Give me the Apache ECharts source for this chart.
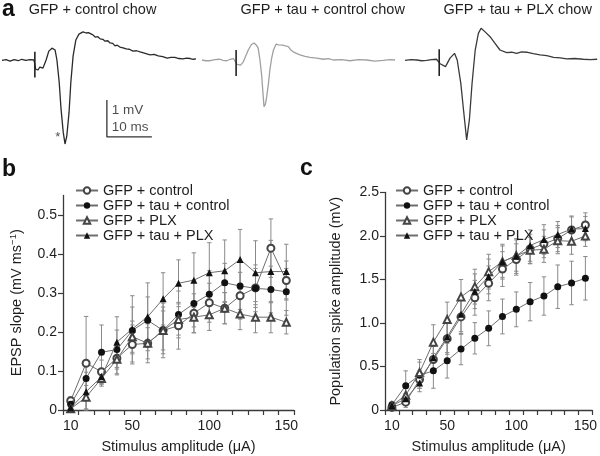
<!DOCTYPE html>
<html><head><meta charset="utf-8">
<script src="https://cdn.jsdelivr.net/npm/echarts@6/dist/echarts.min.js"></script>
<style>html,body{margin:0;padding:0;background:#fff}#c{width:600px;height:456px}</style>
</head><body><div id="c"></div>
<script>
// ---------- Panel a: example traces (time in ms, voltage in mV) ----------
const traceTitles = ['GFP + control chow', 'GFP + tau + control chow', 'GFP + tau + PLX chow'];
const traceCtrl = [[0,-0.01],[0.9,0.01],[1.8,-0.03],[2.7,0.01],[3.6,-0.02],[4.4,0.02],[5.3,-0.01],[6.2,0.01],[7.1,0.0],[7.5,-0.25],[8.0,-0.27],[8.4,-0.19],[9.1,-0.22],[9.8,0.0],[10.4,0.24],[11.1,0.32],[11.8,0.27],[12.2,0.0],[12.7,-0.59],[13.1,-1.30],[13.6,-1.95],[14.0,-2.27],[14.4,-2.05],[14.9,-1.41],[15.3,-0.59],[15.8,0.11],[16.4,0.54],[17.1,0.70],[18.0,0.76],[18.7,0.73],[19.2,0.74],[19.6,0.70],[20.2,0.68],[20.7,0.62],[21.3,0.63],[21.8,0.57],[22.4,0.56],[22.9,0.51],[23.5,0.52],[24.0,0.46],[24.6,0.45],[25.1,0.38],[25.6,0.40],[26.2,0.35],[26.9,0.33],[27.6,0.30],[28.3,0.29],[29.1,0.24],[29.9,0.25],[30.7,0.22],[31.8,0.18],[32.9,0.14],[33.8,0.15],[34.7,0.11],[35.7,0.09],[36.7,0.05],[37.5,0.07],[38.4,0.07],[39.3,0.04],[40.2,0.03],[41.0,0.05],[41.8,0.04],[42.5,0.02],[43.1,0.03]];
const traceTau = [[0.2,0],[1.1,-0.02],[2.0,-0.02],[3.1,0.01],[4.2,0.02],[4.9,-0.01],[5.7,-0.02],[6.5,0.02],[7.2,0.04],[8.0,-0.12],[8.3,-0.09],[8.8,-0.14],[9.4,-0.05],[10.5,0.27],[11.2,0.42],[11.8,0.46],[12.3,0.40],[12.7,0.32],[13.1,0.0],[13.5,-0.45],[13.8,-0.95],[14.0,-1.26],[14.3,-1.2],[14.6,-0.99],[15.0,-0.62],[15.3,-0.27],[15.7,0.05],[16.1,0.27],[16.7,0.43],[17.2,0.41],[17.6,0.43],[18.2,0.40],[18.7,0.38],[19.4,0.36],[19.9,0.28],[20.5,0.22],[21.2,0.18],[22.0,0.14],[23.1,0.10],[24.2,0.07],[25.7,0.05],[27.2,0.02],[28.3,0.04],[29.4,0.0],[31.2,0.01],[33.1,-0.02],[35.0,0.01],[36.8,0.0],[38.6,-0.03],[40.5,-0.01],[42.0,0.01],[43.1,0]];
const tracePlx = [[0,-0.01],[1.3,0.01],[2.6,0],[3.7,-0.02],[4.8,-0.01],[5.9,0.01],[7.0,0.02],[7.8,-0.1],[8.2,-0.14],[9.0,-0.18],[10.0,0.05],[11.0,0.18],[11.6,0.0],[12.4,-0.63],[13.0,-1.35],[13.7,-2.16],[14.3,-1.62],[14.9,-0.63],[15.6,0.27],[16.3,0.72],[16.9,0.86],[17.8,0.76],[18.9,0.63],[20.0,0.45],[21.1,0.27],[22.6,0.20],[23.7,0.21],[24.8,0.18],[25.9,0.22],[27.0,0.21],[28.5,0.17],[30.0,0.14],[31.5,0.12],[33.0,0.07],[34.5,0.06],[35.9,0.03],[37.7,0.04],[39.6,0.02],[41.2,0.01],[42.7,0.02]];
// stimulus artifacts: [time, top, bottom]
const artifacts = [[7.3,0.22,-0.47],[7.8,0.27,-0.43],[7.6,0.29,-0.43]];
// scale bar: 1 mV vertical, 10 ms horizontal
const scaleBar = [[23.3,-1.08],[23.3,-2.08],[33.3,-2.08]];
const scaleLabels = [[24.4,-1.35,'1 mV'],[24.4,-1.81,'10 ms']];
const starMark = [[12.4,-2.1,'*']];

// ---------- Panels b and c ----------
const stimulus = ['10','20','30','40','50','60','70','80','90','100','110','120','130','140','150'];
const xLabelShown = ['10','50','100','150'];
const groups = ['GFP + control','GFP + tau + control','GFP + PLX','GFP + tau + PLX'];

// b: EPSP slope (mV/ms)
const epspCtrl    = [0.024,0.120,0.098,0.133,0.168,0.171,0.204,0.216,0.248,0.275,0.261,0.293,0.313,0.415,0.332];
const epspTau     = [0.015,0.081,0.148,0.155,0.204,0.230,0.204,0.245,0.273,0.297,0.326,0.318,0.312,0.309,0.303];
const epspPlx     = [0.003,0.033,0.081,0.130,0.188,0.171,0.204,0.232,0.238,0.244,0.261,0.246,0.238,0.238,0.225];
const epspTauPlx  = [0.005,0.047,0.085,0.174,0.208,0.239,0.285,0.325,0.333,0.352,0.357,0.386,0.352,0.355,0.355];
const epspCtrlErr   = [0.01,0.12,0.03,0.04,0.05,0.05,0.07,0.06,0.05,0.05,0.04,0.06,0.05,0.075,0.05];
const epspTauErr    = [0.01,0.04,0.07,0.05,0.06,0.06,0.06,0.06,0.06,0.06,0.05,0.06,0.06,0.06,0.06];
const epspPlxErr    = [0.01,0.03,0.02,0.04,0.04,0.04,0.05,0.04,0.04,0.04,0.04,0.04,0.04,0.04,0.03];
const epspTauPlxErr = [0.01,0.05,0.02,0.065,0.085,0.087,0.067,0.06,0.07,0.077,0.079,0.077,0.082,0.08,0.07];
const epspTicks = [0,0.1,0.2,0.3,0.4,0.5];

// c: population spike amplitude (mV)
const psCtrl    = [0.03,0.09,0.35,0.58,0.82,1.07,1.29,1.456,1.62,1.73,1.85,1.91,1.97,2.069,2.126];
const psTau     = [0.06,0.28,0.40,0.45,0.567,0.70,0.824,0.939,1.075,1.157,1.245,1.31,1.417,1.46,1.514];
const psPlx     = [0.05,0.17,0.43,0.78,1.04,1.30,1.418,1.59,1.705,1.775,1.835,1.847,1.946,1.94,2.0];
const psTauPlx  = [0.05,0.13,0.31,0.60,0.84,1.10,1.365,1.535,1.705,1.77,1.89,1.96,2.017,2.08,2.085];
const psCtrlErr   = [0.02,0.06,0.10,0.15,0.18,0.20,0.20,0.20,0.20,0.18,0.17,0.16,0.15,0.15,0.14];
const psTauErr    = [0.03,0.17,0.15,0.20,0.20,0.18,0.18,0.20,0.20,0.20,0.22,0.22,0.25,0.25,0.25];
const psPlxErr    = [0.02,0.08,0.15,0.20,0.20,0.20,0.20,0.20,0.18,0.18,0.15,0.15,0.15,0.15,0.12];
const psTauPlxErr = [0.02,0.06,0.10,0.15,0.18,0.20,0.20,0.20,0.20,0.20,0.18,0.17,0.15,0.15,0.14];
const psTicks = [0,0.5,1.0,1.5,2.0,2.5];

// ---------- build ----------
const FONT = '"Liberation Sans", Arial, Helvetica, sans-serif';
const TXT = '#1e1e1e';
const AX = '#3a3a3a';
const symbols = ['emptyCircle','circle','emptyTriangle','triangle'];
const markColors = ['#444','#111','#444','#111'];

const chart = echarts.init(document.getElementById('c'), null, {renderer:'canvas'});

const traceLefts = [2, 201, 405];
const grids = traceLefts.map(l => ({left:l, top:19.3, width:194, height:133.2}));
grids.push({left:63, top:195.5, width:231, height:214.5});
grids.push({left:385, top:192.5, width:209, height:217.5});

const xAxes = [0,1,2].map(i => ({type:'value', gridIndex:i, min:0, max:43.1, show:false}));
const yAxes = [0,1,2].map(i => ({type:'value', gridIndex:i, min:-2.5, max:1.1, show:false}));

function catAxis(gi){
  return {
    type:'category', gridIndex:gi, data:stimulus, boundaryGap:true,
    name:'Stimulus amplitude (\u03bcA)', nameLocation:'middle', nameGap:29,
    nameTextStyle:{fontFamily:FONT, fontSize:14.5, color:TXT},
    axisLine:{lineStyle:{color:AX, width:1.3}},
    axisTick:{show:true, interval:0, alignWithLabel:false, length:5, lineStyle:{color:AX, width:1.2}},
    axisLabel:{interval:(idx, val) => xLabelShown.includes(val), fontFamily:FONT, fontSize:14, color:TXT, margin:9},
    splitLine:{show:false}
  };
}
xAxes.push(catAxis(3));
xAxes.push(catAxis(4));

function valAxis(gi, max, interval, ticks, name, gap){
  return {
    type:'value', gridIndex:gi, min:0, max:max, interval:interval,
    name:name, nameLocation:'middle', nameGap:gap, nameRotate:90,
    nameTextStyle:{fontFamily:FONT, fontSize:14.5, color:TXT,
      rich:{sup:{fontSize:9.5, fontFamily:FONT, color:TXT, padding:[0,0,7,0]}, n:{fontSize:14.5, fontFamily:FONT, color:TXT}}},
    axisLine:{show:true, lineStyle:{color:AX, width:1.3}},
    axisTick:{show:true, length:5, customValues:ticks, lineStyle:{color:AX, width:1.2}},
    axisLabel:{customValues:ticks, fontFamily:FONT, fontSize:14, color:TXT, margin:6,
      formatter:v => v === 0 ? '0' : (+v).toFixed(1)},
    splitLine:{show:false}
  };
}
yAxes.push(valAxis(3, 0.55, 0.1, epspTicks, '{n|EPSP slope (mV ms}{sup|\u22121}{n|)}', 38));
yAxes.push(valAxis(4, 2.5, 0.5, psTicks, 'Population spike amplitude (mV)', 42));

const series = [];
const traces = [traceCtrl, traceTau, tracePlx];
const traceColors = ['#2a2a2a','#a0a0a0','#3a3a3a'];
traces.forEach((t, i) => {
  series.push({type:'line', name:'trace'+i, xAxisIndex:i, yAxisIndex:i, data:t, showSymbol:false, symbol:'none',
    lineStyle:{color:traceColors[i], width:1.3}, z:2});
  const a = artifacts[i];
  series.push({type:'line', name:'art'+i, xAxisIndex:i, yAxisIndex:i, data:[[a[0],a[1]],[a[0],a[2]]], symbol:'none',
    lineStyle:{color:'#222', width:1.6}, z:3});
});
series.push({type:'line', name:'scale', xAxisIndex:0, yAxisIndex:0, data:scaleBar, symbol:'none',
  lineStyle:{color:'#333', width:1.3}});
series.push({type:'scatter', name:'scaleText', xAxisIndex:0, yAxisIndex:0, symbolSize:0,
  data:scaleLabels.map(d => ({value:[d[0], d[1]], label:{formatter:d[2]}})),
  label:{show:true, position:'right', distance:0, fontFamily:FONT, fontSize:13.5, color:TXT}});
series.push({type:'scatter', name:'star', xAxisIndex:0, yAxisIndex:0, symbolSize:0,
  data:starMark.map(d => ({value:[d[0], d[1]], label:{formatter:d[2]}})),
  label:{show:true, position:'inside', fontFamily:FONT, fontSize:13, color:TXT}});

function errSeries(gi, vals, errs){
  return {
    type:'custom', name:'err', xAxisIndex:gi, yAxisIndex:gi, z:1,
    data: vals.map((v, i) => [i, v, errs[i]]),
    encode:{x:0, y:1},
    renderItem:(params, api) => {
      const i = api.value(0), v = api.value(1), e = api.value(2);
      const top = api.coord([i, v + e]);
      const bot = api.coord([i, Math.max(0, v - e)]);
      const w = 2.2;
      const st = {stroke:'#8a8a8a', lineWidth:1};
      return {type:'group', children:[
        {type:'line', shape:{x1:top[0], y1:top[1], x2:bot[0], y2:bot[1]}, style:st},
        {type:'line', shape:{x1:top[0]-w, y1:top[1], x2:top[0]+w, y2:top[1]}, style:st},
        {type:'line', shape:{x1:bot[0]-w, y1:bot[1], x2:bot[0]+w, y2:bot[1]}, style:st}
      ]};
    }
  };
}
function dataSeries(gi, k, vals){
  return {
    type:'line', name:groups[k], xAxisIndex:gi, yAxisIndex:gi, data:vals,
    symbol:symbols[k], symbolSize:7, showAllSymbol:true,
    lineStyle:{color:'#6e6e6e', width:1},
    itemStyle:{color:markColors[k], borderWidth:0.9},
    z:5 + k
  };
}
const bVals = [epspCtrl, epspTau, epspPlx, epspTauPlx];
const bErrs = [epspCtrlErr, epspTauErr, epspPlxErr, epspTauPlxErr];
const cVals = [psCtrl, psTau, psPlx, psTauPlx];
const cErrs = [psCtrlErr, psTauErr, psPlxErr, psTauPlxErr];
[0,1,2,3].forEach(k => series.push(errSeries(3, bVals[k], bErrs[k])));
[0,1,2,3].forEach(k => series.push(errSeries(4, cVals[k], cErrs[k])));
[3,2,1,0].forEach(k => series.push(dataSeries(3, k, bVals[k])));
[3,2,1,0].forEach(k => series.push(dataSeries(4, k, cVals[k])));

function legendAt(left){
  return {
    data:groups, orient:'vertical', left:left, top:178, itemWidth:22, itemHeight:8, itemGap:0,
    selectedMode:false,
    textStyle:{fontFamily:FONT, fontSize:14.5, color:TXT, lineHeight:14}
  };
}

const graphic = [];
const titleCenters = [92.5, 322.7, 517.7];
traceTitles.forEach((t, i) => graphic.push({type:'text', style:{text:t, x:titleCenters[i], y:10,
  align:'center', verticalAlign:'middle', font:'14.5px ' + FONT, fill:TXT}}));
[['a',2,10],['b',2,170],['c',300,169]].forEach(p => graphic.push({type:'text', style:{text:p[0], x:p[1], y:p[2],
  align:'left', verticalAlign:'middle', font:'bold 23px ' + FONT, fill:'#111'}}));

chart.setOption({
  animation:false,
  backgroundColor:'#fff',
  grid:grids, xAxis:xAxes, yAxis:yAxes,
  legend:[legendAt(70), legendAt(390)],
  series:series,
  graphic:graphic
});
</script></body></html>
